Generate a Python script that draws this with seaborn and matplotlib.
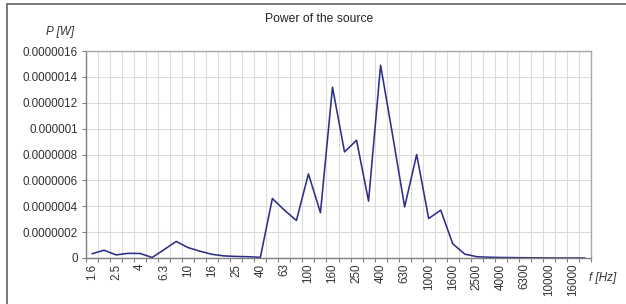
import numpy as np
import pandas as pd
import matplotlib
matplotlib.use("Agg")
import matplotlib.pyplot as plt
from matplotlib.lines import Line2D
import seaborn as sns

# 1/3 octave band centre frequencies and source power
freqs = ["1.6", "2", "2.5", "3.15", "4", "5", "6.3", "8", "10", "12.5",
         "16", "20", "25", "31.5", "40", "50", "63", "80", "100", "125",
         "160", "200", "250", "315", "400", "500", "630", "800", "1000", "1250",
         "1600", "2000", "2500", "3150", "4000", "5000", "6300", "8000", "10000", "12500",
         "16000", "20000"]
power = [3.3e-8, 6.0e-8, 2.4e-8, 3.6e-8, 3.5e-8, 0.4e-8, 6.5e-8, 1.28e-7, 8.0e-8, 5.2e-8,
         2.8e-8, 1.6e-8, 1.2e-8, 1.0e-8, 0.5e-8, 4.6e-7, 3.7e-7, 2.9e-7, 6.5e-7, 3.5e-7,
         1.32e-6, 8.2e-7, 9.1e-7, 4.4e-7, 1.49e-6, 9.5e-7, 3.95e-7, 8.0e-7, 3.05e-7, 3.7e-7,
         1.1e-7, 3.0e-8, 1.0e-8, 6e-9, 4e-9, 3e-9, 2e-9, 1e-9, 5e-10, 3e-10,
         2e-10, 1e-10]
yticks = [0, 2e-7, 4e-7, 6e-7, 8e-7, 1e-6, 1.2e-6, 1.4e-6, 1.6e-6]
ytick_labels = ["0", "0.0000002", "0.0000004", "0.0000006", "0.0000008",
                "0.000001", "0.0000012", "0.0000014", "0.0000016"]

sns.set_style("white")
plt.rcParams['font.family'] = ['Liberation Sans', 'DejaVu Sans']
plt.rcParams['font.size'] = 8.4

df = pd.DataFrame({"f": freqs, "P": power})

fig = plt.figure(figsize=(6.26, 3.04), dpi=100)
ax = fig.add_axes([86 / 626, 1 - 258 / 304, (591 - 86) / 626, (258 - 51) / 304])

sns.lineplot(data=df, x="f", y="P", sort=False, ax=ax, color="#2E2E8A", linewidth=1.15)

n = len(freqs)
ax.set_xlim(-0.5, n - 0.5)
ax.set_ylim(0, 1.6e-6)

# labels on every other band, ticks + grid on band boundaries
ax.set_xticks(np.arange(0, n, 2))
ax.set_xticklabels(freqs[::2], rotation=90, color="#333333")
ax.set_xticks(np.arange(-0.5, n, 1), minor=True)
ax.tick_params(axis="x", which="major", length=0, pad=4)
ax.tick_params(axis="x", which="minor", length=3, width=0.8, color="#808080", direction="out", bottom=True)

ax.set_yticks(yticks)
ax.set_yticklabels(ytick_labels, color="#333333")
ax.tick_params(axis="y", length=3, width=0.8, color="#808080", direction="out", left=True, pad=3)

ax.grid(which="minor", axis="x", color="#dcdcdc", linewidth=0.8)
ax.grid(which="major", axis="y", color="#dcdcdc", linewidth=0.8)
ax.set_axisbelow(True)

for side in ["left", "bottom"]:
    ax.spines[side].set_color("#808080")
    ax.spines[side].set_linewidth(1.0)
for side in ["top", "right"]:
    ax.spines[side].set_color("#a8a8a8")
    ax.spines[side].set_linewidth(1.0)
    ax.spines[side].set_visible(True)

ax.set_xlabel("")
ax.set_ylabel("")

fig.text(319.5 / 626, 1 - 19 / 304, "Power of the source", ha="center", va="center",
         fontsize=8.7, color="#222222")
fig.text(74 / 626, 1 - 31.5 / 304, "P [W]", ha="right", va="center",
         fontsize=8.4, style="italic", color="#333333")
fig.text(589 / 626, 1 - 278 / 304, "f [Hz]", ha="left", va="center",
         fontsize=8.4, style="italic", color="#333333")

# outer chart frame (top and left edges)
fig.add_artist(Line2D([7 / 626, 1], [1 - 4 / 304, 1 - 4 / 304], color="#6e6e6e", linewidth=1.3))
fig.add_artist(Line2D([7 / 626, 7 / 626], [0, 1 - 4 / 304], color="#6e6e6e", linewidth=1.3))

fig.savefig("out.png", dpi=100)
